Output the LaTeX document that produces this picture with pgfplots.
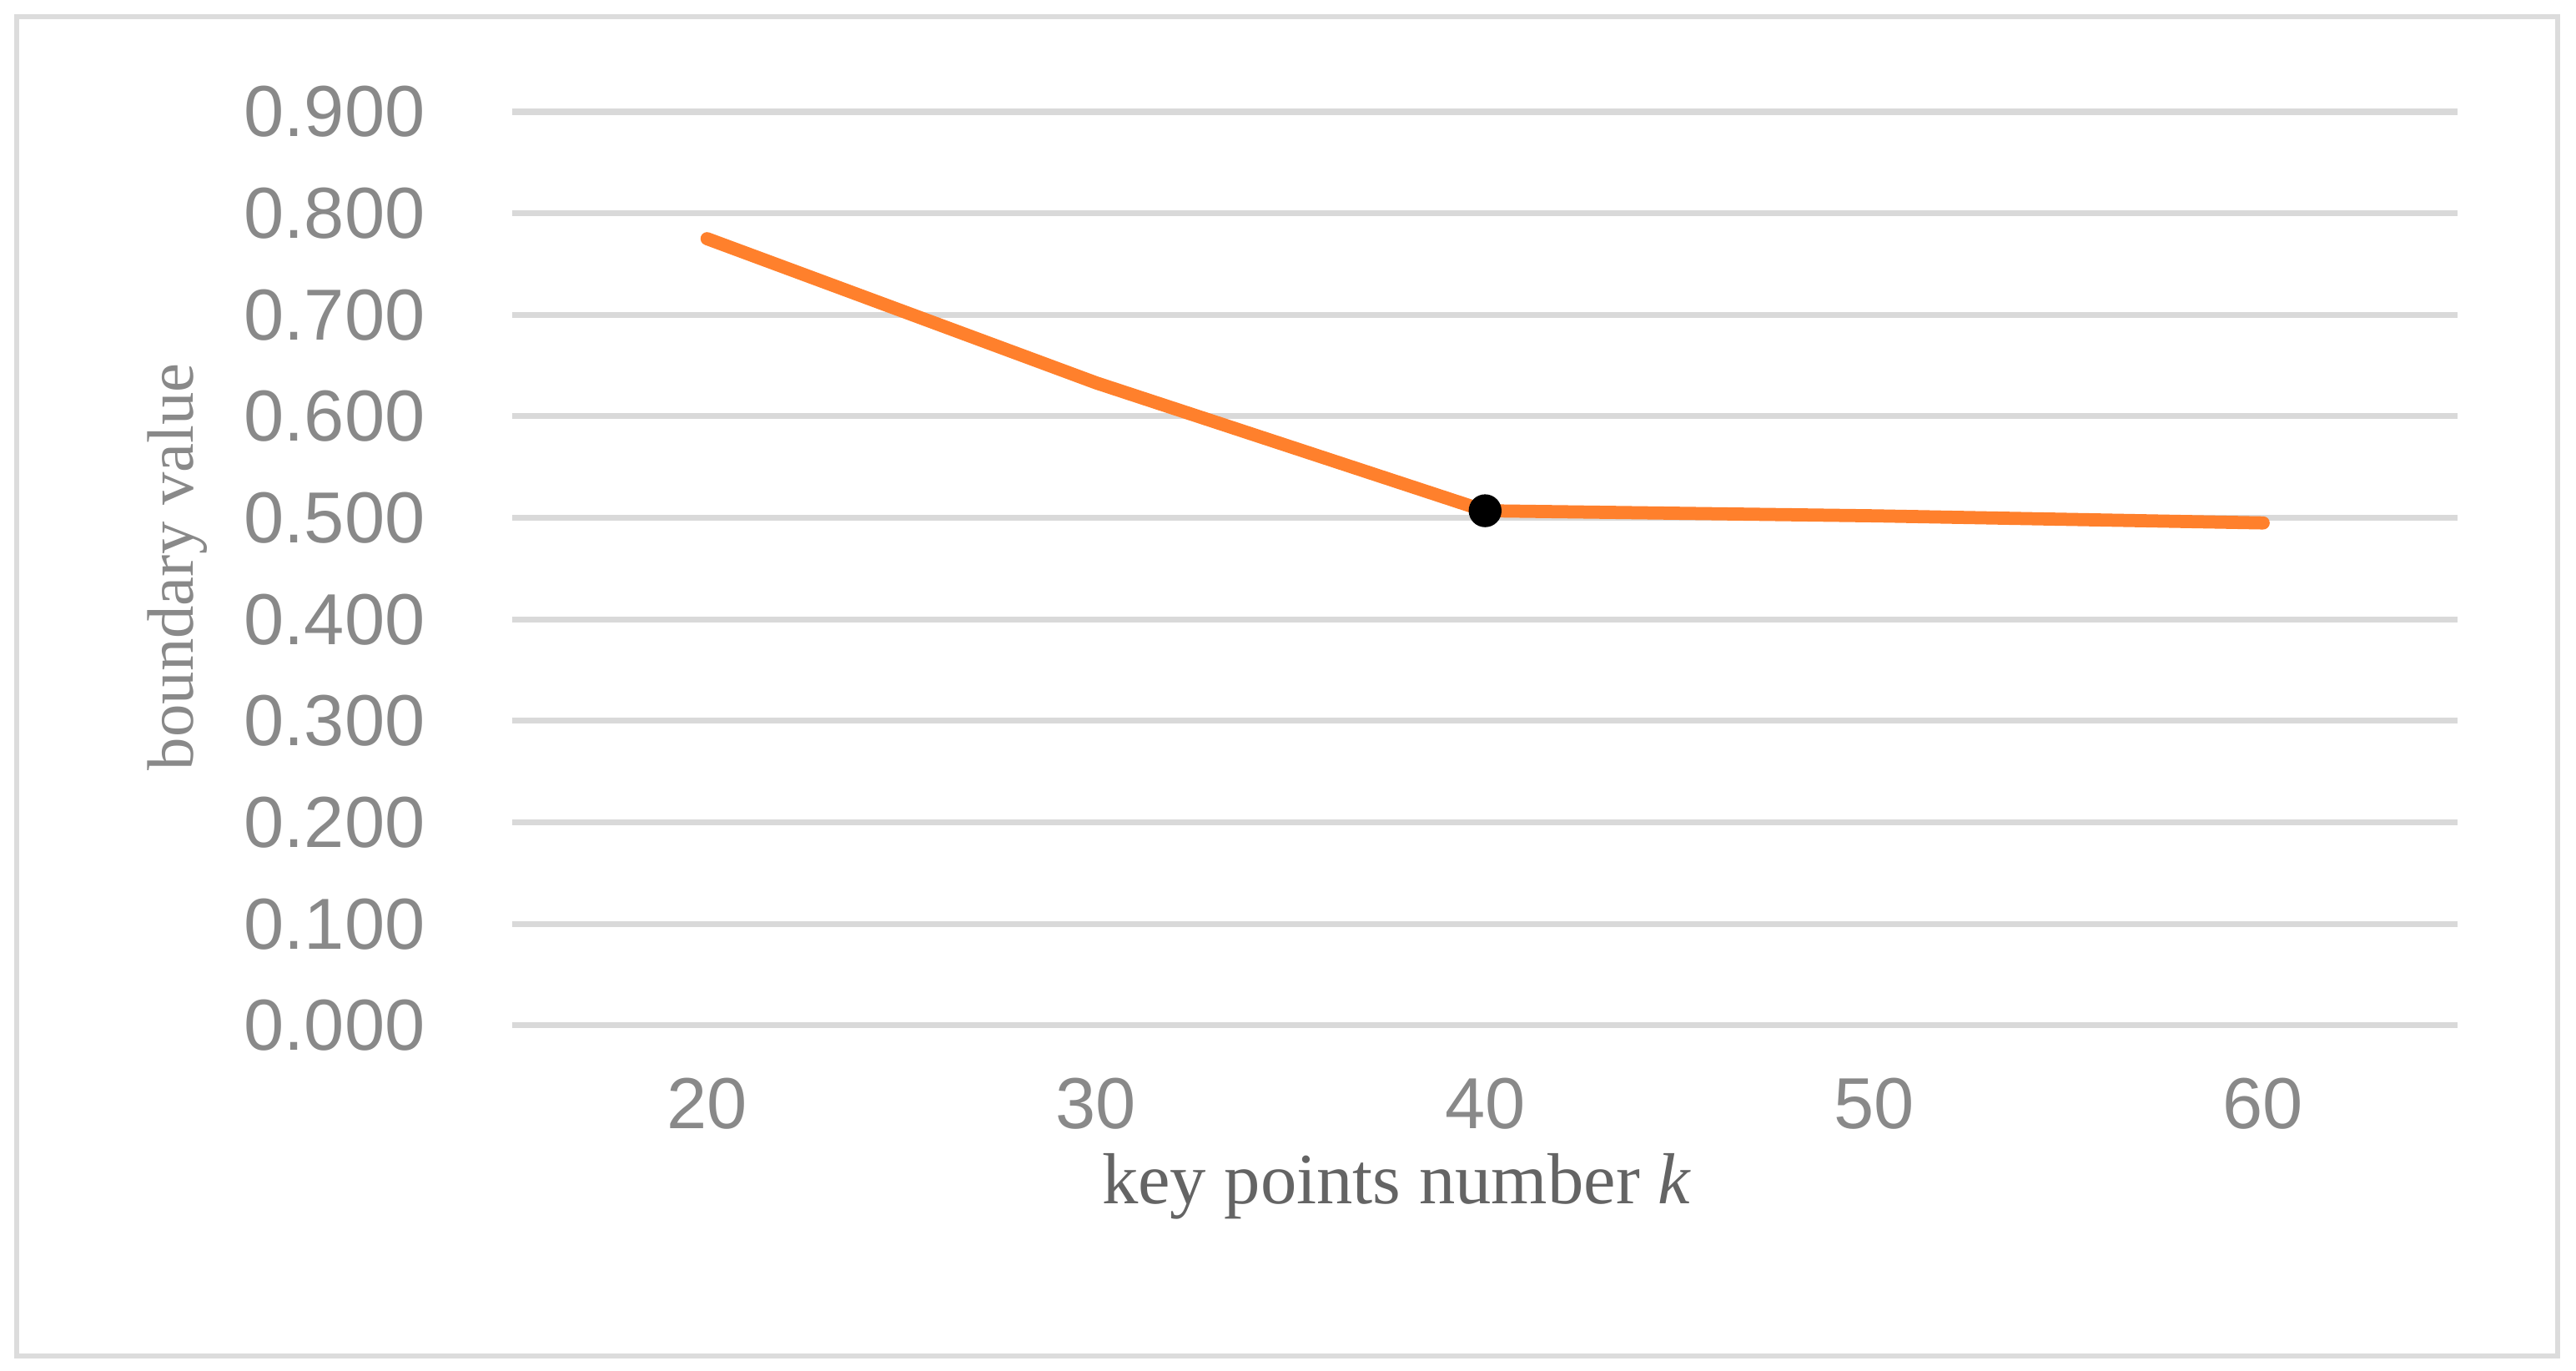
\documentclass[border=0pt]{standalone}
\usepackage{fontspec}
\setmainfont{Liberation Serif}
\newfontfamily\ticksf{Liberation Sans}
\usepackage{pgfplots}
\pgfplotsset{compat=1.18}
\definecolor{lineorange}{RGB}{255,128,44}
\definecolor{gridgray}{RGB}{217,217,217}
\definecolor{tickgray}{RGB}{137,137,137}
\definecolor{labelgray}{RGB}{100,100,100}
\definecolor{framegray}{RGB}{220,220,220}
\begin{document}
\begin{tikzpicture}
\useasboundingbox (-78pt,-52.5pt) rectangle (314pt,156pt);
\draw[framegray, line width=0.8pt] (-75.5pt,-50.25pt) rectangle (311.25pt,153.5pt);
\begin{axis}[
  scale only axis,
  width=296pt, height=139pt,
  xmin=15, xmax=65,
  ymin=0, ymax=0.9,
  xtick={20,30,40,50,60},
  ytick={0,0.1,0.2,0.3,0.4,0.5,0.6,0.7,0.8,0.9},
  ymajorgrids,
  grid style={gridgray, line width=0.9pt},
  axis line style={draw=none},
  tick style={draw=none},
  /pgf/number format/assume math mode=true,
  yticklabel={\pgfmathprintnumber[fixed, fixed zerofill, precision=3]{\tick}},
  ticklabel style={font=\ticksf\fontsize{11}{13}\selectfont, text=tickgray},
  yticklabel style={anchor=east, xshift=-9.8pt},
  xticklabel style={anchor=north, yshift=-4.5pt},
  xlabel={key points number \textit{k}},
  xlabel style={at={(axis description cs:0.4545,0)}, anchor=center, yshift=-24.5pt, font=\fontsize{11}{13}\selectfont, text=labelgray},
  ylabel={boundary value},
  ylabel style={at={(axis description cs:-0.1723,0.502)}, anchor=center, font=\fontsize{10}{12}\selectfont, text=tickgray},
  clip=false,
]
\addplot[lineorange, line width=2pt, line cap=round, line join=round, mark=none]
  coordinates {(20,0.775) (30,0.633) (40,0.507) (50,0.502) (60,0.495)};
\addplot[only marks, mark=*, mark size=2.3pt, black]
  coordinates {(40,0.507)};
\end{axis}
\end{tikzpicture}
\end{document}
